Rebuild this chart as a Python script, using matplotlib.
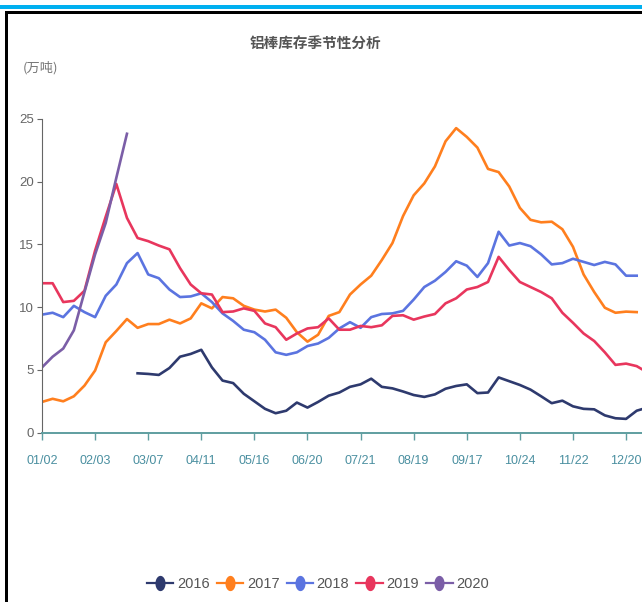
import numpy as np
import matplotlib
matplotlib.use("Agg")
import matplotlib.pyplot as plt
from matplotlib import font_manager
from matplotlib.lines import Line2D
from matplotlib.patches import Rectangle
from matplotlib.path import Path

# weekly index, a label every 5 weeks
tick_labels = ["01/02", "02/03", "03/07", "04/11", "05/16", "06/20",
               "07/21", "08/19", "09/17", "10/24", "11/22", "12/20"]

# 2016 starts at week 9
start_2016 = 9
y2016 = [4.73, 4.68, 4.6, 5.15, 6.05, 6.27, 6.6, 5.2, 4.15, 3.95, 3.1, 2.5,
         1.9, 1.55, 1.75, 2.4, 2.0, 2.45, 2.95, 3.2, 3.65, 3.85, 4.3, 3.65,
         3.53, 3.28, 3.0, 2.85, 3.05, 3.5, 3.72, 3.85, 3.15, 3.2, 4.4, 4.1,
         3.8, 3.43, 2.9, 2.35, 2.55, 2.1, 1.9, 1.86, 1.38, 1.15, 1.1, 1.75, 2.0]
y2017 = [2.45, 2.7, 2.5, 2.9, 3.75, 4.95, 7.2, 8.1, 9.05, 8.35, 8.65, 8.65,
         9.0, 8.7, 9.1, 10.3, 9.9, 10.8, 10.7, 10.1, 9.8, 9.65, 9.8, 9.15,
         8.0, 7.25, 7.8, 9.3, 9.6, 11.0, 11.8, 12.5, 13.75, 15.1, 17.25, 18.9,
         19.85, 21.2, 23.2, 24.25, 23.55, 22.7, 21.0, 20.75, 19.6, 17.9, 16.95,
         16.75, 16.8, 16.2, 14.8, 12.6, 11.2, 9.95, 9.55, 9.64, 9.6]
y2018 = [9.4, 9.55, 9.2, 10.1, 9.6, 9.2, 10.9, 11.8, 13.5, 14.3, 12.6, 12.3,
         11.4, 10.8, 10.85, 11.1, 10.4, 9.5, 8.9, 8.2, 8.0, 7.4, 6.4, 6.2,
         6.4, 6.9, 7.1, 7.55, 8.3, 8.8, 8.35, 9.2, 9.45, 9.5, 9.7, 10.6, 11.6,
         12.1, 12.8, 13.65, 13.3, 12.4, 13.5, 16.0, 14.9, 15.1, 14.85, 14.2,
         13.4, 13.5, 13.85, 13.6, 13.35, 13.6, 13.4, 12.5, 12.5]
y2019 = [11.9, 11.9, 10.4, 10.5, 11.3, 14.5, 17.2, 19.8, 17.1, 15.5, 15.25,
         14.9, 14.6, 13.1, 11.8, 11.1, 11.0, 9.6, 9.65, 9.9, 9.7, 8.7, 8.4,
         7.4, 7.9, 8.3, 8.4, 9.1, 8.2, 8.2, 8.5, 8.4, 8.55, 9.3, 9.35, 9.0,
         9.25, 9.45, 10.3, 10.7, 11.4, 11.6, 12.0, 14.0, 12.95, 12.0, 11.6,
         11.2, 10.7, 9.55, 8.75, 7.9, 7.3, 6.4, 5.4, 5.5, 5.3, 4.8]
y2020 = [5.2, 6.05, 6.7, 8.15, 11.2, 14.2, 16.7, 20.3, 23.8]

years = ["2016", "2017", "2018", "2019", "2020"]
colors = ["#2e3a6e", "#ff7f1e", "#5b74e0", "#e8365d", "#7b5ea7"]

names = {f.name for f in font_manager.fontManager.ttflist}
narrow = "Liberation Sans Narrow" if "Liberation Sans Narrow" in names else "Liberation Sans"
cjk = "Noto Sans CJK SC"

W, H = 642, 602
fig = plt.figure(figsize=(W / 100, H / 100), dpi=100)

# page decoration: cyan band, black rule, black left line
fig.add_artist(Rectangle((0, 1 - 8.5 / H), 1, 3.8 / H, transform=fig.transFigure,
                         color="#00b0f0", lw=0))
fig.add_artist(Rectangle((5 / W, 1 - 13.5 / H), 1, 2.6 / H, transform=fig.transFigure,
                         color="black", lw=0))
fig.add_artist(Rectangle((5 / W, 0), 2.8 / W, 1 - 11 / H, transform=fig.transFigure,
                         color="black", lw=0))

ax = fig.add_axes([42 / W, (H - 432.7) / H, 600 / W, 314 / H])

series = [
    (np.arange(start_2016, start_2016 + len(y2016)), y2016),
    (np.arange(len(y2017)), y2017),
    (np.arange(len(y2018)), y2018),
    (np.arange(len(y2019)), y2019),
    (np.arange(len(y2020)), y2020),
]
for (xs, ys), c, yr in zip(series, colors, years):
    ax.plot(xs, ys, color=c, lw=1.9, solid_joinstyle="round", label=yr)

ax.set_xlim(0, 56.5)
ax.set_ylim(0, 25)
ax.set_xticks(np.arange(len(tick_labels)) * 5)
ax.set_xticklabels(tick_labels)
ax.set_yticks([0, 5, 10, 15, 20, 25])

for s in ["top", "right"]:
    ax.spines[s].set_visible(False)
ax.spines["left"].set_color("#666666")
ax.spines["left"].set_linewidth(0.8)
ax.spines["bottom"].set_color("#5f9ea0")
ax.spines["bottom"].set_linewidth(1.4)

ax.tick_params(axis="y", colors="#666666", length=3.6, width=0.8, pad=2,
               labelsize=9.5)
ax.tick_params(axis="x", colors="#5f9ea0", length=5, width=1.0, pad=11,
               labelsize=9, labelcolor="#4a8fa0")
for lab in ax.get_xticklabels() + ax.get_yticklabels():
    lab.set_fontfamily(narrow)

fig.text(315 / W, 1 - 44 / H, "铝棒库存季节性分析", ha="center", va="center",
         fontsize=10.5, fontweight="bold", color="#555555", family=[cjk, "DejaVu Sans"])
fig.text(41 / W, 1 - 68 / H, "(万吨)", ha="center", va="center",
         fontsize=9.5, color="#777777", family=[cjk, "DejaVu Sans"])

# legend: line with a tall ellipse marker
t = np.linspace(0, 2 * np.pi, 40)
ellipse = Path(np.column_stack([0.66 * np.cos(t), np.sin(t)]), closed=True)
handles = [Line2D([0], [0], color=c, lw=1.6, marker=ellipse, markersize=11,
                  markeredgewidth=0) for c in colors]
fig.legend(handles, years, loc="center", bbox_to_anchor=(318 / W, 1 - 584 / H),
           ncol=5, frameon=False, handlelength=1.8, handletextpad=0.25,
           columnspacing=0.5, labelcolor="#555555",
           prop={"family": narrow, "size": 10.5})

fig.savefig("out.png", dpi=100)
